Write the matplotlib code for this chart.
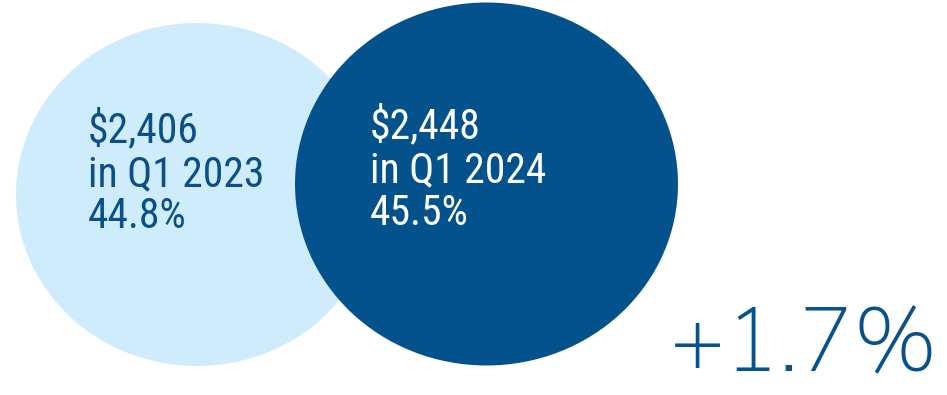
import matplotlib
matplotlib.use("Agg")
import matplotlib.pyplot as plt
from matplotlib.patches import Ellipse

# ---- data ----
periods = ["Q1 2023", "Q1 2024"]
amounts = [2406, 2448]
shares = [44.8, 45.5]
change_pct = 1.7

# ---- style / layout ----
fill_colors = ["#CFECFC", "#03528C"]
text_colors = ["#0B4F8A", "#FFFFFF"]
centers = [(197, 194.5), (486.5, 184)]
sizes = [(362, 343), (383, 363)]
text_x = [88, 370]
text_base = [[142, 186, 228], [138, 182, 225]]
label_font = ["Roboto Condensed", "DejaVu Sans"]
big_font = ["Nunito Sans", "DejaVu Sans"]

W, H = 947, 395
fig = plt.figure(figsize=(W / 100, H / 100), dpi=100)
ax = fig.add_axes([0, 0, 1, 1])
ax.set_xlim(0, W)
ax.set_ylim(H, 0)
ax.set_aspect("equal")
ax.axis("off")

for i in range(len(periods)):
    e = Ellipse(centers[i], sizes[i][0], sizes[i][1], facecolor=fill_colors[i],
                edgecolor="none", zorder=1 + i)
    ax.add_patch(e)

for i in range(len(periods)):
    lines = [f"${amounts[i]:,}", f"in {periods[i]}", f"{shares[i]:.1f}%"]
    for j, s in enumerate(lines):
        ax.text(text_x[i], text_base[i][j], s, color=text_colors[i], fontsize=30,
                family=label_font, fontweight=400, ha="left", va="baseline", zorder=5)

ax.text(938, 371, f"+{change_pct}%", color="#07518C", fontsize=66, family=big_font,
        fontweight=300, ha="right", va="baseline", zorder=5)

fig.savefig("out.png", dpi=100)
